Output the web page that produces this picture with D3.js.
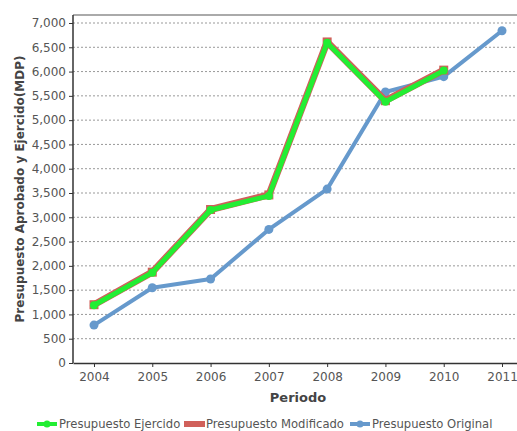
<!DOCTYPE html>
<html>
<head>
<meta charset="utf-8">
<script src="https://cdn.jsdelivr.net/npm/d3@7"></script>
<style>
  body { margin: 0; background: #fff; }
  text { font-family: "DejaVu Sans", Verdana, sans-serif; }
  .grid line { stroke: #999; stroke-dasharray: 2,2; }
  .axis text { fill: #555; font-size: 12px; }
</style>
</head>
<body>
<svg id="chart" width="517" height="431"></svg>
<script>
// Data
const years = [2004, 2005, 2006, 2007, 2008, 2009, 2010, 2011];
const ejercido   = [1190, 1860, 3150, 3440, 6595, 5380, 6020];
const modificado = [1200, 1870, 3160, 3460, 6610, 5400, 6030];
const original   = [780, 1550, 1730, 2750, 3580, 5580, 5895, 6840];
const yTicks = d3.range(0, 7001, 500);

const colors = { ejercido: "#22ee33", modificado: "#d0605a", original: "#6699cc" };

const svg = d3.select("#chart");
const margin = { left: 73, top: 15, right: -6, bottom: 68 };
const width = 517, height = 431;

// Scales
const x = d3.scaleLinear()
    .domain([years[0] - 0.36, years[years.length - 1] + 0.36])
    .range([margin.left, width - margin.right]);
const y = d3.scaleLinear()
    .domain([0, 7000])
    .range([height - margin.bottom, 23]);

// Top border
svg.append("line")
    .attr("x1", margin.left).attr("x2", width)
    .attr("y1", margin.top).attr("y2", margin.top)
    .attr("stroke", "#aaa").attr("stroke-width", 2);

// Grid
svg.append("g")
    .attr("class", "grid")
    .selectAll("line")
    .data(yTicks.filter(d => d > 0))
    .enter().append("line")
    .attr("x1", margin.left).attr("x2", width)
    .attr("y1", d => y(d)).attr("y2", d => y(d));

// Axes
const yAxis = svg.append("g")
    .attr("class", "axis")
    .attr("transform", `translate(${margin.left},0)`)
    .call(d3.axisLeft(y).tickValues(yTicks).tickFormat(d3.format(",")).tickSize(4).tickSizeOuter(0));
yAxis.select(".domain").attr("stroke", "#333").attr("stroke-width", 1.5)
    .attr("d", `M0,${margin.top}V${y(0)}`);
yAxis.selectAll(".tick line").attr("stroke", "#333");

const xAxis = svg.append("g")
    .attr("class", "axis")
    .attr("transform", `translate(0,${y(0)})`)
    .call(d3.axisBottom(x).tickValues(years).tickFormat(d3.format("d")).tickSize(4).tickSizeOuter(0).tickPadding(5));
xAxis.select(".domain").attr("stroke", "#333").attr("stroke-width", 1.5);
xAxis.selectAll(".tick line").attr("stroke", "#333");

// Axis titles
svg.append("text")
    .attr("transform", `translate(24,${(margin.top + y(0)) / 2}) rotate(-90)`)
    .attr("text-anchor", "middle")
    .attr("font-size", 12).attr("font-weight", "bold").attr("fill", "#444")
    .text("Presupuesto Aprobado y Ejercido(MDP)");

svg.append("text")
    .attr("x", (margin.left + width - margin.right) / 2)
    .attr("y", 402)
    .attr("text-anchor", "middle")
    .attr("font-size", 13).attr("font-weight", "bold").attr("fill", "#444")
    .text("Periodo");

// Lines
const line = d3.line().x((d, i) => x(years[i])).y(d => y(d));

svg.append("path").datum(original)
    .attr("fill", "none").attr("stroke", colors.original).attr("stroke-width", 4)
    .attr("stroke-linejoin", "round").attr("d", line);
svg.selectAll(".pOrig").data(original).enter().append("circle")
    .attr("cx", (d, i) => x(years[i])).attr("cy", d => y(d)).attr("r", 4.5)
    .attr("fill", colors.original);

svg.append("path").datum(modificado)
    .attr("fill", "none").attr("stroke", colors.modificado).attr("stroke-width", 7)
    .attr("stroke-linejoin", "round").attr("d", line);
svg.selectAll(".pMod").data(modificado).enter().append("rect")
    .attr("x", (d, i) => x(years[i]) - 4.5).attr("y", d => y(d) - 4.5)
    .attr("width", 9).attr("height", 9)
    .attr("fill", colors.modificado);

svg.append("path").datum(ejercido)
    .attr("fill", "none").attr("stroke", colors.ejercido).attr("stroke-width", 5)
    .attr("stroke-linejoin", "round").attr("d", line);
svg.selectAll(".pEje").data(ejercido).enter().append("circle")
    .attr("cx", (d, i) => x(years[i])).attr("cy", d => y(d)).attr("r", 4)
    .attr("fill", colors.ejercido);

// Legend
const legendItems = [
  { name: "Presupuesto Ejercido", color: colors.ejercido, type: "line", x: 37 },
  { name: "Presupuesto Modificado", color: colors.modificado, type: "rect", x: 184 },
  { name: "Presupuesto Original", color: colors.original, type: "line", x: 350 }
];
const ly = 424;
const lg = svg.append("g").selectAll("g").data(legendItems).enter().append("g")
    .attr("transform", d => `translate(${d.x},${ly})`);
lg.each(function(d) {
  const g = d3.select(this);
  if (d.type === "rect") {
    g.append("rect").attr("x", 0).attr("y", -3).attr("width", 21).attr("height", 6).attr("fill", d.color);
  } else {
    g.append("line").attr("x1", 0).attr("x2", 20).attr("y1", 0).attr("y2", 0)
      .attr("stroke", d.color).attr("stroke-width", 4);
    g.append("circle").attr("cx", 10).attr("cy", 0).attr("r", 3.5).attr("fill", d.color);
  }
  g.append("text").attr("x", 22).attr("y", 4)
    .attr("font-size", 11.6).attr("fill", "#555").text(d.name);
});
</script>
</body>
</html>
